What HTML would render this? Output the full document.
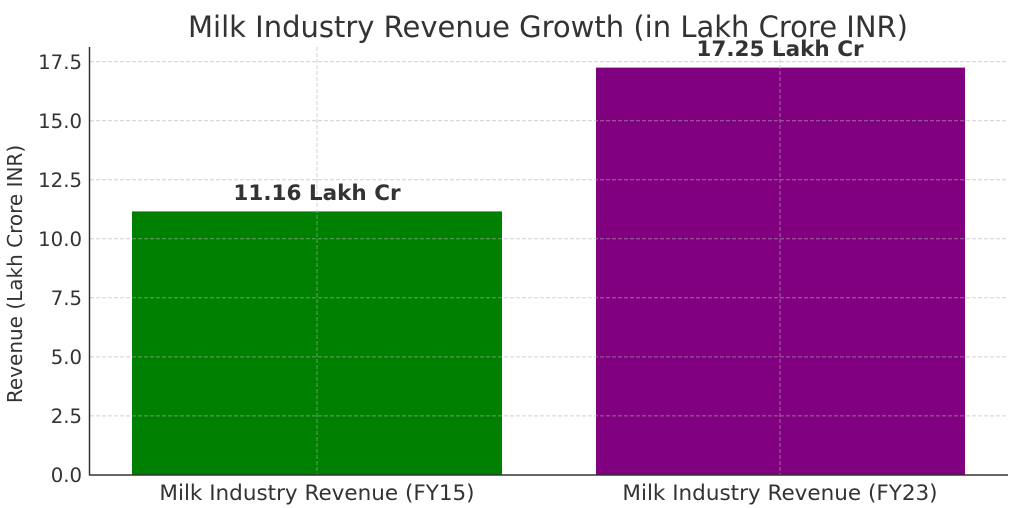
<!DOCTYPE html>
<html><head><style>body{margin:0;background:#fff}svg{display:block}text{font-family:"DejaVu Sans","Liberation Sans",sans-serif;fill:#333}</style></head>
<body>
<svg width="1024" height="508" viewBox="0 0 1024 508">
<text x="548" y="37" font-size="29" text-anchor="middle">Milk Industry Revenue Growth (in Lakh Crore INR)</text>
<rect x="132" y="211.4" width="370" height="263.6" fill="#008000"/>
<rect x="596" y="67.6" width="369" height="407.4" fill="#800080"/>
<g stroke="#b0b0b0" stroke-opacity="0.6" stroke-dasharray="4,2" stroke-width="1">
<line x1="90" x2="1008" y1="415.9" y2="415.9"/>
<line x1="90" x2="1008" y1="356.9" y2="356.9"/>
<line x1="90" x2="1008" y1="297.8" y2="297.8"/>
<line x1="90" x2="1008" y1="238.8" y2="238.8"/>
<line x1="90" x2="1008" y1="179.7" y2="179.7"/>
<line x1="90" x2="1008" y1="120.7" y2="120.7"/>
<line x1="90" x2="1008" y1="61.7" y2="61.7"/>
<line x1="317" x2="317" y1="47" y2="475"/>
<line x1="780" x2="780" y1="47" y2="475"/>
</g>
<g stroke="#333" stroke-width="1.5">
<line x1="89.5" x2="89.5" y1="47" y2="475.5"/>
<line x1="89" x2="1008" y1="475" y2="475"/>
</g>
<g font-size="19.7" text-anchor="end">
<text x="82" y="482">0.0</text>
<text x="82" y="423">2.5</text>
<text x="82" y="364">5.0</text>
<text x="82" y="305">7.5</text>
<text x="82" y="246">10.0</text>
<text x="82" y="187">12.5</text>
<text x="82" y="128">15.0</text>
<text x="82" y="69">17.5</text>
</g>
<g font-size="21.5" text-anchor="middle">
<text x="317" y="500">Milk Industry Revenue (FY15)</text>
<text x="780" y="500">Milk Industry Revenue (FY23)</text>
</g>
<text transform="translate(22,274) rotate(-90)" font-size="20" text-anchor="middle">Revenue (Lakh Crore INR)</text>
<text x="317" y="200" font-size="21.5" font-weight="bold" text-anchor="middle">11.16 Lakh Cr</text>
<text x="780" y="56" font-size="21.5" font-weight="bold" text-anchor="middle">17.25 Lakh Cr</text>
</svg>
</body></html>
